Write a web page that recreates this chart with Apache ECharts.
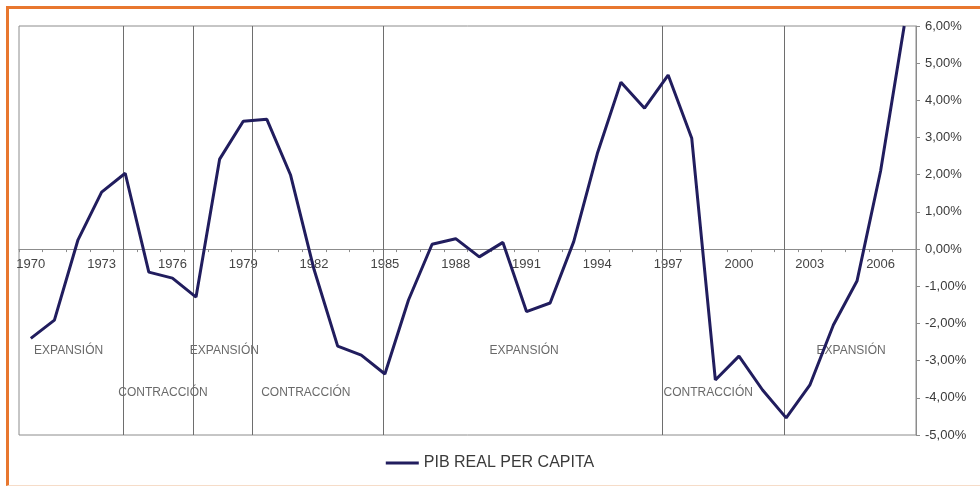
<!DOCTYPE html>
<html>
<head>
<meta charset="utf-8">
<script src="https://cdn.jsdelivr.net/npm/echarts@6/dist/echarts.min.js"></script>
<style>
  html, body { margin: 0; padding: 0; background: #fff; }
  #wrap { position: relative; width: 980px; height: 486px; overflow: hidden; }
  #chart { position: absolute; left: 0; top: 0; width: 980px; height: 486px; }
  #frame { position: absolute; left: 6px; top: 6px; right: 0; bottom: 0;
           border-top: 3px solid #e8772e; border-left: 3px solid #e8772e;
           border-bottom: 1px solid #f6dcc8; pointer-events: none; }
</style>
</head>
<body>
<div id="wrap">
  <div id="chart"></div>
  <div id="frame"></div>
</div>
<script>
// years 1970 - 2007
var years = [];
for (var y = 1970; y <= 2007; y++) years.push(String(y));

// PIB real per capita, %
var pib = [
  -2.40, -1.91, 0.25, 1.53, 2.04, -0.62, -0.78, -1.29, 2.42, 3.44,
   3.49,  2.00, -0.55, -2.61, -2.85, -3.36, -1.37, 0.13, 0.28, -0.21,
   0.18, -1.68, -1.45, 0.20, 2.57, 4.49, 3.79, 4.68, 2.98, -3.52,
  -2.88, -3.79, -4.54, -3.66, -2.04, -0.86, 2.10, 6.00
];

// cycle turning points (vertical lines), in years
var cycleLines = [1973.9, 1976.87, 1979.37, 1984.92, 1996.75, 2001.9];

// phase annotations
var annoText  = ['EXPANSIÓN', 'CONTRACCIÓN', 'EXPANSIÓN', 'CONTRACCIÓN', 'EXPANSIÓN', 'CONTRACCIÓN', 'EXPANSIÓN'];
var annoYear  = [1971.6, 1975.6, 1978.2, 1981.65, 1990.9, 1998.7, 2004.75];
var annoValue = [-2.74, -3.87, -2.74, -3.87, -2.74, -3.87, -2.74];

var yMin = -5, yMax = 6;
var gridTop = 26, gridBottom = 51, chartH = 486;
// move the category axis up to the 0 line
var plotH = chartH - gridTop - gridBottom;
var zeroOffset = -plotH * (0 - yMin) / (yMax - yMin);

var myChart = echarts.init(document.getElementById('chart'));

var option = {
  animation: false,
  backgroundColor: '#fff',
  textStyle: { fontFamily: 'Liberation Sans, Arial, sans-serif' },
  grid: {
    left: 19, right: 64, top: gridTop, bottom: gridBottom,
    show: true, borderColor: '#8c8c8c', borderWidth: 1, backgroundColor: 'transparent'
  },
  legend: {
    bottom: 10,
    left: 'center',
    data: ['PIB REAL PER CAPITA'],
    icon: 'rect',
    itemWidth: 33,
    itemHeight: 3,
    itemGap: 10,
    textStyle: { fontSize: 16, color: '#3a3a3a' }
  },
  xAxis: [
    {
      type: 'category',
      data: years,
      boundaryGap: true,
      position: 'bottom',
      offset: zeroOffset,
      axisLine: { onZero: false, lineStyle: { color: '#8c8c8c', width: 1 } },
      axisTick: { show: true, interval: 0, length: 3, lineStyle: { color: '#8c8c8c' } },
      axisLabel: { interval: 2, color: '#444', fontSize: 13, margin: 9 },
      splitLine: { show: false }
    },
    {
      type: 'value',
      min: 1969.5,
      max: 2007.5,
      show: false
    }
  ],
  yAxis: {
    type: 'value',
    position: 'right',
    min: yMin,
    max: yMax,
    interval: 1,
    axisLine: { show: true, lineStyle: { color: '#8c8c8c' } },
    axisTick: { show: true, length: 4, lineStyle: { color: '#8c8c8c' } },
    axisLabel: {
      color: '#3a3a3a', fontSize: 13, margin: 9,
      formatter: function (v) { return v.toFixed(2).replace('.', ',') + '%'; }
    },
    splitLine: { show: false }
  },
  series: [
    {
      name: 'PIB REAL PER CAPITA',
      type: 'line',
      data: pib,
      symbol: 'none',
      z: 5,
      lineStyle: { color: '#211d5e', width: 3 },
      itemStyle: { color: '#211d5e' }
    },
    {
      name: 'ciclos',
      type: 'scatter',
      xAxisIndex: 1,
      symbolSize: 0,
      silent: true,
      data: annoText.map(function (t, i) {
        return { name: t, value: [annoYear[i], annoValue[i]] };
      }),
      label: {
        show: true,
        position: 'inside',
        formatter: '{b}',
        color: '#444',
        fontSize: 12
      },
      markLine: {
        silent: true,
        symbol: 'none',
        label: { show: false },
        lineStyle: { color: '#6e6e6e', width: 1, type: 'solid' },
        data: cycleLines.map(function (v) { return { xAxis: v }; })
      }
    }
  ]
};

myChart.setOption(option);
</script>
</body>
</html>
